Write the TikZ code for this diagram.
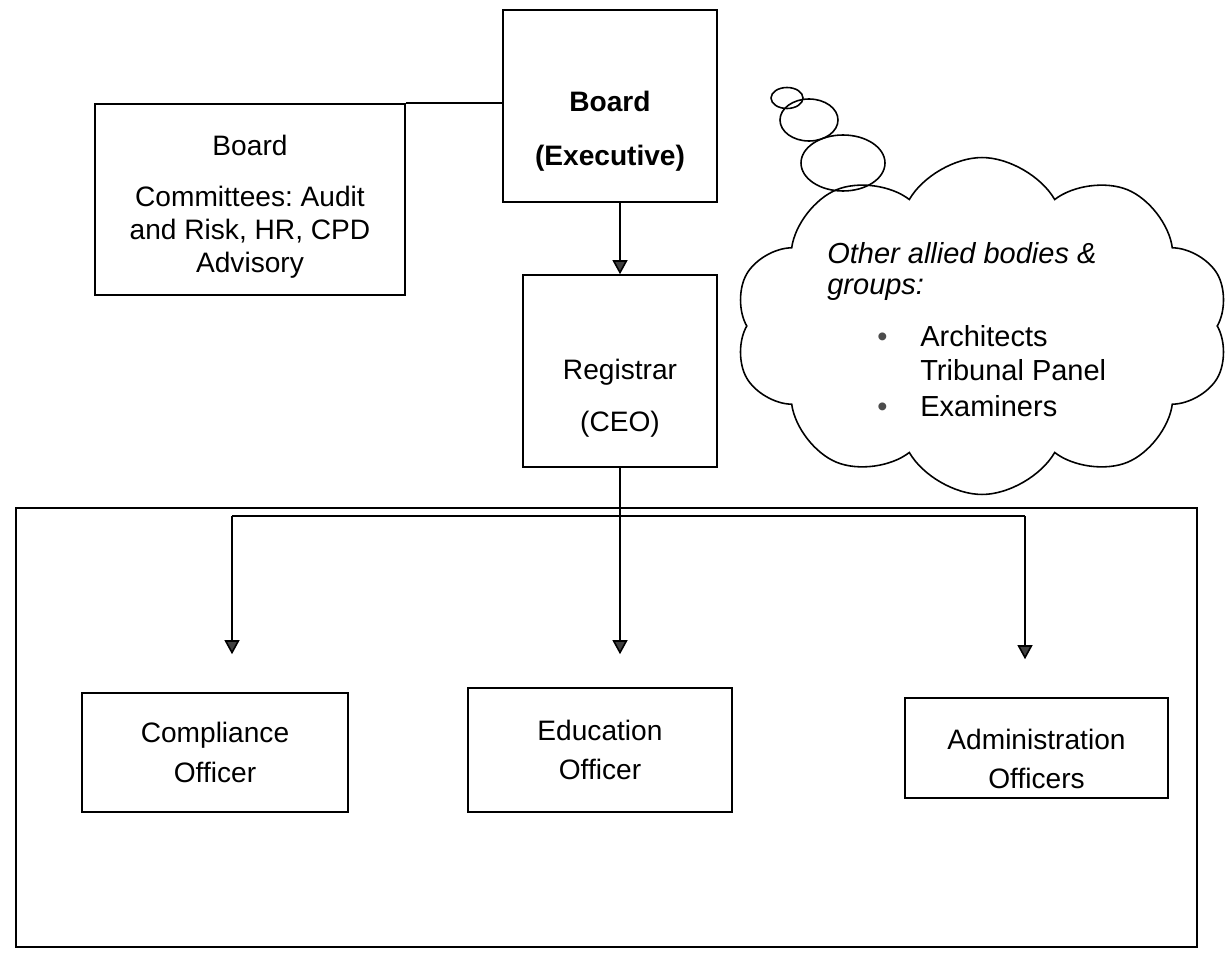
\documentclass[tikz,border=0pt]{standalone}
\usepackage{fontspec}
\setmainfont{Liberation Sans}
\usetikzlibrary{arrows.meta,shapes.geometric,shapes.symbols}
\frenchspacing
\tikzstyle{every box} = []
\tikzstyle{box} = [draw, line width=0.9pt, align=center, inner sep=0pt, font=\fontsize{16}{22.7}\selectfont, every box]
\tikzstyle{link} = [-{Triangle[width=8.5pt,length=8pt,fill=black!75]}, draw, line width=0.9pt]
\tikzstyle{bubble} = [ellipse, draw, line width=0.9pt, inner sep=0pt]

\begin{document}
\begin{tikzpicture}[x=0.02cm, y=-0.02cm]
    \useasboundingbox (0,0) rectangle (1231,953);

    % top: board and its committees
    \node[box, minimum width=4.28cm, minimum height=3.84cm] (board) at (610,106)
        {\textbf{\rule{0pt}{40pt}Board}\\[7.9pt]\textbf{(Executive)}};
    \node[box, minimum width=6.2cm, minimum height=3.82cm, font=\fontsize{16}{18.7}\selectfont] (committees) at (250,199.5)
        {\rule{0pt}{20pt}Board\\[10.3pt]Committees: Audit\\and Risk, HR, CPD\\Advisory};
    \node[box, minimum width=3.88cm, minimum height=3.84cm] (registrar) at (620,371)
        {\rule{0pt}{42.5pt}Registrar\\[7.3pt](CEO)};

    \draw[line width=0.9pt] (committees.north east) -- (committees.north east -| board.west);
    \draw[link] (registrar.north |- board.south) -- (registrar.north);

    % staff
    \node[box, minimum width=23.62cm, minimum height=8.78cm] (staff) at (606.5,727.5) {};
    \node[box, minimum width=5.32cm, minimum height=2.38cm] (compliance) at (215,752.5) {Compliance\\Officer};
    \node[box, minimum width=5.28cm, minimum height=2.48cm] (education) at (600,750) {Education\\Officer};
    \node[box, minimum width=5.26cm, minimum height=2cm] (admin) at (1036.5,748) {\rule{0pt}{24pt}Administration\\Officers};

    \coordinate (busL) at (232,516);
    \coordinate (busR) at (1025,516);
    \draw[line width=0.9pt] (busL) -- (busR);
    \draw[link, shorten >=0.66cm] (registrar.south) -- (registrar.south |- education.north);
    \draw[link, shorten >=0.76cm] (busL) -- (busL |- compliance.north);
    \draw[link, shorten >=0.76cm] (busR) -- (busR |- admin.north);

    % thought cloud
    \foreach \bx/\by/\bw/\bh [count=\i] in {787/98/32/21, 809/120/58/42, 843/163/84/56}
        \node[bubble, minimum width=0.02cm*\bw, minimum height=0.02cm*\bh] (bubble\i) at (\bx,\by) {};
    \node[cloud, draw, line width=0.9pt, cloud puffs=10, cloud puff arc=120, minimum width=9.9cm, minimum height=6.74cm] (allied) at (982,326) {};
    \node[anchor=north west, align=left, inner sep=0pt, font=\fontsize{16.5}{19.3}\selectfont] (alliedtext) at (827,242)
        {\textit{Other allied bodies \&}\\[-1.8pt]
         \textit{groups:}\\[10.8pt]
         \hspace*{1cm}\makebox[0.86cm][l]{\textcolor{black!70}{\textbullet}}Architects\\
         \hspace*{1.86cm}Tribunal Panel\\[1.1pt]
         \hspace*{1cm}\makebox[0.86cm][l]{\textcolor{black!70}{\textbullet}}Examiners};
\end{tikzpicture}
\end{document}
